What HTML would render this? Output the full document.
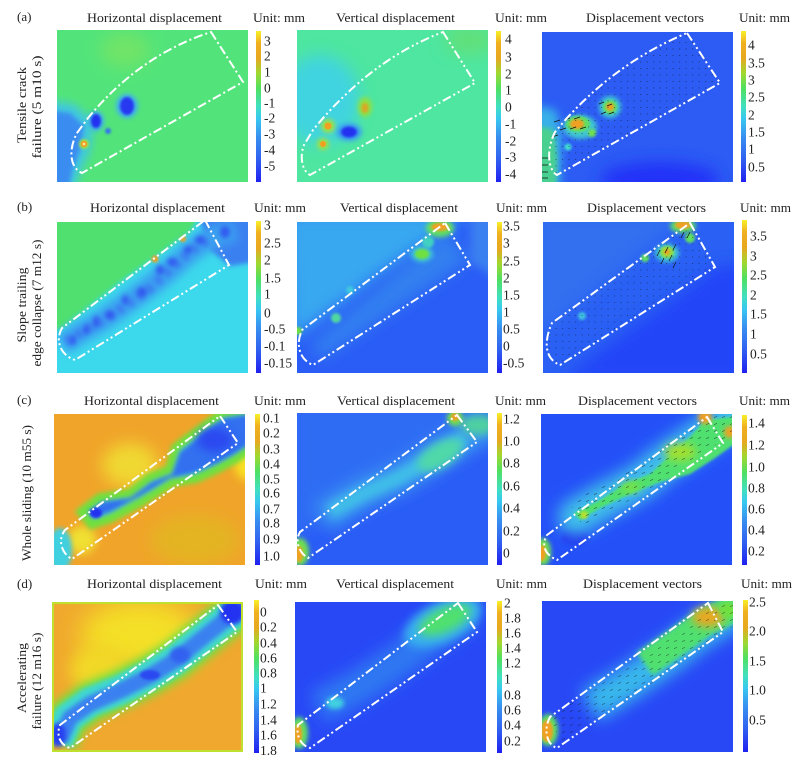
<!DOCTYPE html>
<html><head><meta charset="utf-8"><style>
html,body{margin:0;padding:0;background:#fff;}
svg{display:block;}
text{font-family:"Liberation Serif",serif;fill:#222;}
</style></head><body>
<svg width="801" height="758" viewBox="0 0 801 758" xmlns="http://www.w3.org/2000/svg">
<defs>
<filter id="f1" x="-50%" y="-50%" width="200%" height="200%"><feGaussianBlur stdDeviation="1.2"/></filter>
<filter id="f2" x="-50%" y="-50%" width="200%" height="200%"><feGaussianBlur stdDeviation="2.5"/></filter>
<filter id="f3" x="-50%" y="-50%" width="200%" height="200%"><feGaussianBlur stdDeviation="4.5"/></filter>
<filter id="f4" x="-50%" y="-50%" width="200%" height="200%"><feGaussianBlur stdDeviation="8"/></filter>
<filter id="f5" x="-50%" y="-50%" width="200%" height="200%"><feGaussianBlur stdDeviation="13"/></filter>
<linearGradient id="cb" x1="0" y1="0" x2="0" y2="1">
<stop offset="0" stop-color="#f8f028"/><stop offset="0.08" stop-color="#f0b020"/><stop offset="0.18" stop-color="#e8a820"/>
<stop offset="0.28" stop-color="#a0d830"/><stop offset="0.38" stop-color="#50e060"/><stop offset="0.5" stop-color="#40e0c0"/>
<stop offset="0.58" stop-color="#38c8f0"/><stop offset="0.7" stop-color="#3890f0"/><stop offset="0.85" stop-color="#3060f0"/>
<stop offset="1" stop-color="#2020f0"/></linearGradient>
<pattern id="pd" width="6.5" height="6.5" patternUnits="userSpaceOnUse"><rect x="3" y="3" width="1.2" height="0.9" fill="#111"/></pattern>
<pattern id="pa" width="8" height="7" patternUnits="userSpaceOnUse"><path d="M2,4.8 L5,3.2" stroke="#111" stroke-width="0.6"/></pattern>
<clipPath id="ca1"><rect x="57" y="30" width="191" height="152"/></clipPath>
<clipPath id="ca2"><rect x="297" y="30" width="191" height="152"/></clipPath>
<clipPath id="ca3"><rect x="542" y="32" width="191" height="150"/></clipPath>
<clipPath id="cb1"><rect x="57" y="222" width="191" height="151"/></clipPath>
<clipPath id="cb2"><rect x="297" y="222" width="191" height="151"/></clipPath>
<clipPath id="cb3"><rect x="543" y="222" width="191" height="151"/></clipPath>
<clipPath id="cc1"><rect x="54" y="414" width="191" height="151"/></clipPath>
<clipPath id="cc2"><rect x="297" y="413" width="191" height="152"/></clipPath>
<clipPath id="cc3"><rect x="541" y="414" width="191" height="151"/></clipPath>
<clipPath id="cd1"><rect x="52" y="602" width="191" height="150"/></clipPath>
<clipPath id="cd2"><rect x="295" y="602" width="191" height="150"/></clipPath>
<clipPath id="cd3"><rect x="542" y="601" width="191" height="151"/></clipPath>
</defs>

<!-- ===== Row a ===== -->
<g clip-path="url(#ca1)">
<rect x="57" y="30" width="191" height="152" fill="#52e47a"/>
<ellipse cx="125" cy="50" rx="25" ry="18" fill="#70e468" filter="url(#f4)"/>
<path d="M45,100 L74,104 L94,122 L90,152 L80,172 L74,192 L45,192 Z" fill="#40c8e0" filter="url(#f3)"/>
<path d="M45,110 L70,113 L84,126 L80,150 L72,172 L68,192 L45,192 Z" fill="#3a8cf0" filter="url(#f2)"/>
<ellipse cx="96" cy="121" rx="8" ry="10" fill="#40b0f0" filter="url(#f2)"/>
<ellipse cx="96" cy="121" rx="5" ry="7" fill="#2230f0" filter="url(#f1)"/>
<ellipse cx="127" cy="106" rx="11" ry="12" fill="#40b0f0" filter="url(#f2)"/>
<ellipse cx="127" cy="106" rx="7" ry="9" fill="#2838f0" filter="url(#f1)"/>
<circle cx="108" cy="131" r="3" fill="#3070f0" filter="url(#f1)"/>
<circle cx="84" cy="144" r="5" fill="#a0e040" filter="url(#f1)"/>
<circle cx="84" cy="144" r="3.2" fill="#f0a020"/>
<circle cx="84" cy="144" r="1.3" fill="#f8f0a0"/>
<path d="M211,32 L243,82 L82,173 C70,168 68,150 77,133 L88,118 Q140,55 211,32 Z" fill="none" stroke="#fff" stroke-width="2" stroke-dasharray="9 3 2 3"/>
</g>

<g clip-path="url(#ca2)">
<rect x="297" y="30" width="191" height="152" fill="#4ee6a0"/>
<ellipse cx="320" cy="100" rx="40" ry="45" fill="#40d4e0" filter="url(#f4)"/>
<ellipse cx="470" cy="40" rx="25" ry="15" fill="#60e07a" filter="url(#f4)"/>
<ellipse cx="349" cy="132" rx="13" ry="9" fill="#3aa0f0" filter="url(#f2)"/>
<ellipse cx="349" cy="132" rx="8" ry="5.5" fill="#2030f0" filter="url(#f1)"/>
<circle cx="328" cy="126" r="7" fill="#a0e040" filter="url(#f2)"/>
<circle cx="328" cy="126" r="3.5" fill="#f0a020"/>
<circle cx="323" cy="144" r="6" fill="#a0e040" filter="url(#f2)"/>
<circle cx="323" cy="144" r="3" fill="#f0a020"/>
<ellipse cx="365" cy="107" rx="7" ry="10" fill="#90e040" filter="url(#f2)"/>
<ellipse cx="365" cy="108" rx="3.5" ry="5" fill="#d8a828" filter="url(#f1)"/>
<path d="M443,32 L475,83 L310,175 C301,170 300,155 304,145 L313,130 Q370,60 443,32 Z" fill="none" stroke="#fff" stroke-width="2" stroke-dasharray="9 3 2 3 2 3"/>
</g>

<g clip-path="url(#ca3)">
<rect x="542" y="32" width="191" height="150" fill="#2c5cf4"/>
<ellipse cx="660" cy="180" rx="60" ry="18" fill="#2030f8" filter="url(#f4)"/>
<path d="M535,105 L556,110 L562,135 L560,190 L535,190 Z" fill="#38b0e8" filter="url(#f3)"/>
<path d="M535,125 L554,130 L557,160 L556,190 L535,190 Z" fill="#48d090" filter="url(#f2)"/>
<ellipse cx="580" cy="127" rx="17" ry="12" fill="#40c8d0" filter="url(#f2)"/>
<ellipse cx="578" cy="124" rx="12" ry="8" fill="#60e060" filter="url(#f1)"/>
<ellipse cx="577" cy="124" rx="7" ry="5" fill="#f0a020" filter="url(#f1)"/>
<circle cx="592" cy="133" r="4" fill="#70e050" filter="url(#f1)"/>
<circle cx="610" cy="107" r="11" fill="#40c8d0" filter="url(#f2)"/>
<circle cx="610" cy="107" r="7" fill="#60e060" filter="url(#f1)"/>
<circle cx="610" cy="107" r="4" fill="#f0a020" filter="url(#f1)"/>
<circle cx="568" cy="147" r="3.5" fill="#40e0d0" filter="url(#f1)"/>
<path d="M687,33 L720,83 L557,175 C548,170 546,150 555,132 Q610,65 687,33 Z" fill="url(#pd)" opacity="0.5"/>
<g stroke="#111" stroke-width="0.7">
<path d="M560,120 l-6,2 M570,118 l-6,2 M580,117 l-6,2 M566,128 l-6,2 M576,127 l-6,2 M586,127 l-6,2 M558,135 l-6,2 M604,102 l-5,2 M612,104 l-5,2 M606,112 l-5,2 M614,112 l-5,2 M548,158 l-6,0 M548,165 l-6,0 M548,172 l-6,0 M548,178 l-6,0"/>
</g>
<path d="M687,33 L720,83 L557,175 C548,170 546,150 555,132 Q610,65 687,33 Z" fill="none" stroke="#fff" stroke-width="2" stroke-dasharray="9 3 2 3 2 3"/>
</g>

<!-- ===== Row b ===== -->
<g clip-path="url(#cb1)">
<rect x="57" y="222" width="191" height="151" fill="#3cd8ec"/>
<path d="M45,215 L200,215 L190,232 L120,282 L62,328 L45,335 Z" fill="#50e070" filter="url(#f2)"/>
<ellipse cx="245" cy="225" rx="6" ry="6" fill="#60e060" filter="url(#f1)"/>
<path d="M198,215 L255,215 L255,262 L230,266 L210,250 Z" fill="#3a80f0" filter="url(#f2)"/>
<polyline points="62,345 80,333 100,322 120,308 145,290 170,270 190,252 210,238 235,230" fill="none" stroke="#3aa0f0" stroke-width="22" filter="url(#f3)"/>
<polyline points="66,342 82,332 100,322 122,308 148,290 172,268 192,250 212,238" fill="none" stroke="#3a80f0" stroke-width="9" stroke-dasharray="7 5" filter="url(#f2)"/>
<g fill="#3058f0" filter="url(#f2)">
<ellipse cx="73" cy="340" rx="3" ry="5"/><ellipse cx="86" cy="330" rx="3" ry="5"/><ellipse cx="96" cy="322" rx="3" ry="6"/>
<ellipse cx="110" cy="315" rx="5" ry="4"/><ellipse cx="125" cy="300" rx="3" ry="5"/><ellipse cx="142" cy="292" rx="5" ry="5"/>
<ellipse cx="160" cy="270" rx="4" ry="5"/><ellipse cx="172" cy="262" rx="5" ry="4"/><ellipse cx="188" cy="250" rx="4" ry="4"/>
<ellipse cx="200" cy="240" rx="5" ry="4"/><ellipse cx="225" cy="232" rx="5" ry="6"/>
</g>
<circle cx="155" cy="259" r="3.5" fill="#f0a020" filter="url(#f1)"/>
<circle cx="183" cy="239" r="3" fill="#f0a020" filter="url(#f1)"/>
<path d="M205,220 L229,265 L75,360 C60,355 55,340 62,328 L205,220 Z" fill="none" stroke="#fff" stroke-width="2" stroke-dasharray="9 3 2 3 2 3"/>
</g>

<g clip-path="url(#cb2)">
<rect x="297" y="222" width="191" height="151" fill="#2a5cf6"/>
<path d="M285,212 L470,212 L440,235 L380,275 L320,320 L290,340 Z" fill="#38a8f0" filter="url(#f4)"/>
<path d="M310,345 L445,230 L470,260 L320,360 Z" fill="#3080f0" filter="url(#f4)"/>
<path d="M470,215 L500,215 L500,280 L470,262 Z" fill="#3a80f0" filter="url(#f3)"/>
<ellipse cx="440" cy="228" rx="14" ry="9" fill="#60e060" filter="url(#f2)"/>
<ellipse cx="440" cy="227" rx="9" ry="4" fill="#f0a020" filter="url(#f1)"/>
<ellipse cx="428" cy="242" rx="6" ry="6" fill="#40d0c0" filter="url(#f1)"/>
<ellipse cx="422" cy="254" rx="11" ry="8" fill="#40c8d0" filter="url(#f2)"/>
<ellipse cx="422" cy="254" rx="7" ry="5" fill="#70e040" filter="url(#f1)"/>
<circle cx="350" cy="290" r="4" fill="#40c8e0" filter="url(#f1)"/>
<circle cx="336" cy="318" r="5" fill="#50d8a0" filter="url(#f1)"/>
<circle cx="298" cy="331" r="4" fill="#70e040" filter="url(#f1)"/>
<path d="M445,223 L470,265 L313,365 C300,360 295,345 302,330 L445,223 Z" fill="none" stroke="#fff" stroke-width="2" stroke-dasharray="9 3 2 3 2 3"/>
</g>

<g clip-path="url(#cb3)">
<rect x="543" y="222" width="191" height="151" fill="#2a60f4"/>
<path d="M560,380 L720,265 L745,265 L745,380 Z" fill="#2044f8" filter="url(#f4)"/>
<path d="M535,212 L690,212 L620,270 L545,330 L535,330 Z" fill="#3070f0" filter="url(#f4)"/>
<ellipse cx="683" cy="226" rx="13" ry="7" fill="#60e060" filter="url(#f2)"/>
<ellipse cx="683" cy="225" rx="8" ry="4" fill="#f0a020" filter="url(#f1)"/>
<circle cx="690" cy="238" r="5" fill="#60e060" filter="url(#f1)"/>
<ellipse cx="667" cy="253" rx="12" ry="9" fill="#40c8d0" filter="url(#f2)"/>
<ellipse cx="667" cy="252" rx="7" ry="6" fill="#90e040" filter="url(#f1)"/>
<circle cx="667" cy="252" r="3" fill="#f0a020" filter="url(#f1)"/>
<circle cx="645" cy="258" r="4" fill="#60e060" filter="url(#f1)"/>
<circle cx="582" cy="316" r="4" fill="#40c0e0" filter="url(#f1)"/>
<path d="M690,223 L715,267 L560,365 C547,360 542,345 552,323 L690,223 Z" fill="url(#pd)" opacity="0.45"/>
<g stroke="#111" stroke-width="0.7"><path d="M660,250 l-3,6 M668,247 l-3,6 M676,244 l-3,6 M664,258 l-3,6 M672,255 l-3,6 M684,232 l-3,6 M690,232 l-3,6 M676,262 l-3,6"/></g>
<path d="M690,223 L715,267 L560,365 C547,360 542,345 552,323 L690,223 Z" fill="none" stroke="#fff" stroke-width="2" stroke-dasharray="9 3 2 3 2 3"/>
</g>

<!-- ===== Row c ===== -->
<g clip-path="url(#cc1)">
<rect x="54" y="414" width="191" height="151" fill="#f0a42a"/>
<ellipse cx="130" cy="465" rx="28" ry="22" fill="#f0d830" filter="url(#f4)"/>
<ellipse cx="246" cy="462" rx="12" ry="18" fill="#f8e020" filter="url(#f3)"/>
<ellipse cx="82" cy="540" rx="14" ry="14" fill="#f0e030" filter="url(#f3)"/>
<ellipse cx="195" cy="540" rx="45" ry="25" fill="#e4b422" filter="url(#f4)"/>
<ellipse cx="60" cy="550" rx="12" ry="22" fill="#40d0e0" filter="url(#f2)"/>
<path d="M82,512 L100,498 L130,494 L150,478 L170,470 L176,448 L208,424 L222,414 L250,410 L250,448 L236,458 L218,468 L196,478 L172,482 L140,502 L110,518 L92,524 Z" fill="#40d8c0" stroke="#70e040" stroke-width="10" filter="url(#f2)"/>
<path d="M88,512 L102,502 L130,498 L152,482 L172,474 L180,452 L210,428 L224,418 L250,414 L250,444 L234,454 L216,464 L194,473 L170,478 L140,496 L110,512 L94,518 Z" fill="#3070f0" filter="url(#f2)"/>
<ellipse cx="96" cy="513" rx="6" ry="5" fill="#2030f0" filter="url(#f1)"/>
<ellipse cx="215" cy="440" rx="18" ry="12" fill="#2a48f0" filter="url(#f3)"/>
<path d="M220,416 L238,443 L72,559 C62,554 57,540 65,530 L220,416 Z" fill="none" stroke="#fff" stroke-width="2" stroke-dasharray="9 3 2 3 2 3"/>
</g>

<g clip-path="url(#cc2)">
<rect x="297" y="413" width="191" height="152" fill="#2a5cf6"/>
<path d="M290,400 L490,400 L490,420 L460,428 L300,535 L290,540 Z" fill="#2e6cf4" filter="url(#f4)"/>
<polyline points="322,518 360,495 400,478 430,460 470,435 495,422" fill="none" stroke="#3a98f0" stroke-width="30" filter="url(#f4)"/>
<polyline points="330,512 362,494 398,478 430,460 465,438" fill="none" stroke="#40c0e8" stroke-width="14" filter="url(#f3)"/>
<ellipse cx="440" cy="455" rx="25" ry="12" fill="#50d8a8" filter="url(#f3)" transform="rotate(-30 440 455)"/>
<ellipse cx="478" cy="425" rx="18" ry="10" fill="#50d0a0" filter="url(#f3)"/>
<circle cx="455" cy="418" r="8" fill="#70e050" filter="url(#f2)"/>
<circle cx="455" cy="417" r="4" fill="#f0a020" filter="url(#f1)"/>
<ellipse cx="300" cy="552" rx="9" ry="14" fill="#70e050" filter="url(#f2)"/>
<ellipse cx="299" cy="554" rx="4" ry="8" fill="#f0a020" filter="url(#f1)"/>
<path d="M457,415 L477,442 L308,558 C298,552 295,540 300,532 L457,415 Z" fill="none" stroke="#fff" stroke-width="2" stroke-dasharray="9 3 2 3 2 3"/>
</g>

<g clip-path="url(#cc3)">
<rect x="541" y="414" width="191" height="151" fill="#2450f8"/>
<ellipse cx="575" cy="537" rx="14" ry="8" fill="#2030f0" filter="url(#f2)"/>
<polyline points="576,517 600,503 640,482 665,462 690,445 715,428 740,415" fill="none" stroke="#40c0e8" stroke-width="36" stroke-linecap="round" filter="url(#f4)"/>
<path d="M574,513 L600,500 L625,484 L650,474 L665,460 L690,437 L705,420 L740,416 L740,440 L715,458 L690,474 L660,482 L630,494 L600,508 L580,520 Z" fill="#50e070" filter="url(#f1)"/>
<ellipse cx="680" cy="452" rx="16" ry="9" fill="#a0e030" filter="url(#f3)"/>
<ellipse cx="630" cy="487" rx="10" ry="5" fill="#80e040" filter="url(#f3)"/>
<circle cx="584" cy="515" r="4" fill="#b0e030" filter="url(#f1)"/>
<circle cx="705" cy="417" r="7" fill="#f0a020" filter="url(#f2)"/>
<circle cx="730" cy="432" r="6" fill="#f0a020" filter="url(#f2)"/>
<ellipse cx="543" cy="552" rx="8" ry="14" fill="#70e050" filter="url(#f2)"/>
<ellipse cx="542" cy="553" rx="4" ry="8" fill="#f0a020" filter="url(#f1)"/>
<polyline points="576,514 600,501 640,480 665,462 690,445 715,430 740,418" fill="none" stroke="url(#pa)" stroke-width="26" opacity="0.55"/>
<path d="M707,417 L723,443 L557,560 C545,555 541,545 547,535 L707,417 Z" fill="none" stroke="#fff" stroke-width="2" stroke-dasharray="9 3 2 3 2 3"/>
</g>

<!-- ===== Row d ===== -->
<g clip-path="url(#cd1)">
<rect x="52" y="602" width="191" height="150" fill="#f0a82e"/>
<ellipse cx="140" cy="635" rx="60" ry="35" fill="#f4e028" filter="url(#f5)"/>
<ellipse cx="100" cy="670" rx="30" ry="25" fill="#f2d828" filter="url(#f4)"/>
<polyline points="58,742 68,718 90,702 120,690 150,675 175,660 200,640 225,620 250,605" fill="none" stroke="#70e040" stroke-width="40" filter="url(#f3)"/>
<polyline points="58,742 68,718 90,702 120,690 150,675 175,660 200,640 225,620 250,605" fill="none" stroke="#40d8d0" stroke-width="30" filter="url(#f2)"/>
<polyline points="60,740 70,718 90,704 122,690 150,676 176,660 200,640 225,620 250,606" fill="none" stroke="#3a80f0" stroke-width="16" filter="url(#f2)"/>
<ellipse cx="150" cy="675" rx="10" ry="5" fill="#2a48f0" filter="url(#f1)"/>
<ellipse cx="180" cy="655" rx="10" ry="8" fill="#3060f0" filter="url(#f2)"/>
<circle cx="232" cy="612" r="12" fill="#2030f0" filter="url(#f2)"/>
<ellipse cx="58" cy="735" rx="8" ry="12" fill="#2840f0" filter="url(#f2)"/>
<path d="M218,605 L237,632 L70,748 C60,745 56,735 60,725 L218,605 Z" fill="none" stroke="#fff" stroke-width="2" stroke-dasharray="9 3 2 3 2 3"/>
<rect x="53" y="603" width="189" height="148" fill="none" stroke="#c0e030" stroke-width="2"/>
</g>

<g clip-path="url(#cd2)">
<rect x="295" y="602" width="191" height="150" fill="#2848f6"/>
<polyline points="318,708 360,686 400,660 440,630 470,612" fill="none" stroke="#2e78f2" stroke-width="34" filter="url(#f4)"/>
<ellipse cx="443" cy="622" rx="42" ry="20" fill="#38b0ee" filter="url(#f3)" transform="rotate(-25 443 622)"/>
<ellipse cx="445" cy="620" rx="28" ry="12" fill="#50e070" filter="url(#f3)" transform="rotate(-25 445 620)"/>
<ellipse cx="335" cy="703" rx="9" ry="6" fill="#40d0e0" filter="url(#f2)"/>
<ellipse cx="299" cy="733" rx="9" ry="16" fill="#60e060" filter="url(#f2)"/>
<ellipse cx="298" cy="734" rx="4" ry="10" fill="#f0a020" filter="url(#f1)"/>
<path d="M458,603 L477,632 L310,748 C300,745 296,735 298,725 L458,603 Z" fill="none" stroke="#fff" stroke-width="2" stroke-dasharray="9 3 2 3 2 3"/>
</g>

<g clip-path="url(#cd3)">
<rect x="542" y="601" width="191" height="151" fill="#2848f6"/>
<polyline points="590,706 630,682 670,655 700,632 740,608" fill="none" stroke="#38b8ec" stroke-width="34" filter="url(#f4)"/>
<polyline points="645,664 680,640 705,622 740,605" fill="none" stroke="#50e070" stroke-width="28" filter="url(#f2)"/>
<ellipse cx="708" cy="617" rx="16" ry="10" fill="#e8a820" filter="url(#f3)"/>
<ellipse cx="728" cy="610" rx="8" ry="8" fill="#70e040" filter="url(#f2)"/>
<ellipse cx="548" cy="730" rx="10" ry="16" fill="#60e060" filter="url(#f2)"/>
<ellipse cx="547" cy="731" rx="6" ry="11" fill="#f0a020" filter="url(#f1)"/>
<polyline points="555,730 590,706 630,682 670,655 700,632 740,606" fill="none" stroke="url(#pa)" stroke-width="26" opacity="0.5"/>
<path d="M708,603 L723,632 L557,748 C547,745 543,730 550,717 L708,603 Z" fill="none" stroke="#fff" stroke-width="2" stroke-dasharray="9 3 2 3 2 3"/>
</g>

<!-- ===== Colorbars ===== -->
<rect x="256" y="31" width="5" height="151" fill="url(#cb)"/>
<rect x="496" y="31" width="5" height="151" fill="url(#cb)"/>
<rect x="741" y="31" width="5" height="151" fill="url(#cb)"/>
<rect x="256" y="221" width="5" height="152" fill="url(#cb)"/>
<rect x="497" y="222" width="5" height="151" fill="url(#cb)"/>
<rect x="742" y="220" width="5" height="153" fill="url(#cb)"/>
<rect x="255" y="414" width="5" height="151" fill="url(#cb)"/>
<rect x="497" y="413" width="5" height="152" fill="url(#cb)"/>
<rect x="742" y="415" width="5" height="150" fill="url(#cb)"/>
<rect x="254" y="600" width="5" height="153" fill="url(#cb)"/>
<rect x="497" y="601" width="5" height="152" fill="url(#cb)"/>
<rect x="743" y="600" width="5" height="152" fill="url(#cb)"/>

<!-- ===== Tick labels ===== -->
<g font-size="13.5">
<text x="264" y="45.5">3</text><text x="264" y="60.5">2</text><text x="264" y="76.5">1</text><text x="264" y="92.5">0</text><text x="264" y="107.5">-1</text><text x="264" y="122.5">-2</text><text x="264" y="138.5">-3</text><text x="264" y="154.5">-4</text><text x="264" y="170.5">-5</text>
<text x="505" y="43.5">4</text><text x="505" y="61.5">3</text><text x="505" y="78.5">2</text><text x="505" y="94.5">1</text><text x="505" y="111.5">0</text><text x="505" y="128.5">-1</text><text x="505" y="145.5">-2</text><text x="505" y="161.5">-3</text><text x="505" y="178.5">-4</text>
<text x="748" y="49.5">4</text><text x="748" y="67.5">3.5</text><text x="748" y="84.5">3</text><text x="748" y="101.5">2.5</text><text x="748" y="119.5">2</text><text x="748" y="136.5">1.5</text><text x="748" y="153.5">1</text><text x="748" y="171.5">0.5</text>

<text x="264" y="229.5">3</text><text x="264" y="247.5">2.5</text><text x="264" y="264.5">2</text><text x="264" y="282.5">1.5</text><text x="264" y="298.5">1</text><text x="264" y="317.5">0</text><text x="264" y="333.5">-0.5</text><text x="264" y="350.5">-0.1</text><text x="264" y="367.5">-0.15</text>
<text x="503" y="230.5">3.5</text><text x="503" y="247.5">3</text><text x="503" y="265.5">2.5</text><text x="503" y="282.5">2</text><text x="503" y="299.5">1.5</text><text x="503" y="316.5">1</text><text x="503" y="333.5">0.5</text><text x="503" y="350.5">0</text><text x="503" y="367.5">-0.5</text>
<text x="750" y="240.5">3.5</text><text x="750" y="260.5">3</text><text x="750" y="279.5">2.5</text><text x="750" y="299.5">2</text><text x="750" y="318.5">1.5</text><text x="750" y="338.5">1</text><text x="750" y="358.5">0.5</text>

<text x="263" y="422.5">0.1</text><text x="263" y="437.5">0.2</text><text x="263" y="453.5">0.3</text><text x="263" y="468.5">0.4</text><text x="263" y="483.5">0.5</text><text x="263" y="497.5">0.6</text><text x="263" y="513.5">0.7</text><text x="263" y="527.5">0.8</text><text x="263" y="543.5">0.9</text><text x="263" y="560.5">1.0</text>
<text x="503" y="423.5">1.2</text><text x="503" y="445.5">1.0</text><text x="503" y="467.5">0.8</text><text x="503" y="490.5">0.6</text><text x="503" y="512.5">0.4</text><text x="503" y="535.5">0.2</text><text x="503" y="557.5">0</text>
<text x="748" y="427.5">1.4</text><text x="748" y="449.5">1.2</text><text x="748" y="471.5">1.0</text><text x="748" y="492.5">0.8</text><text x="748" y="513.5">0.6</text><text x="748" y="534.5">0.4</text><text x="748" y="555.5">0.2</text>

<text x="260" y="616.5">0</text><text x="260" y="631.5">0.2</text><text x="260" y="647.5">0.4</text><text x="260" y="662.5">0.6</text><text x="260" y="677.5">0.8</text><text x="260" y="692.5">1</text><text x="260" y="708.5">1.2</text><text x="260" y="724.5">1.4</text><text x="260" y="739.5">1.6</text><text x="260" y="755">1.8</text>
<text x="504" y="607.5">2</text><text x="504" y="622.5">1.8</text><text x="504" y="637.5">1.6</text><text x="504" y="652.5">1.4</text><text x="504" y="667.5">1.2</text><text x="504" y="683.5">1</text><text x="504" y="699.5">0.8</text><text x="504" y="714.5">0.6</text><text x="504" y="729.5">0.4</text><text x="504" y="745.5">0.2</text>
<text x="749" y="606.5">2.5</text><text x="749" y="635.5">2.0</text><text x="749" y="665.5">1.5</text><text x="749" y="694.5">1.0</text><text x="749" y="724.5">0.5</text>
</g>

<!-- ===== Titles ===== -->
<g font-size="13" text-anchor="start">
<text x="17" y="21">(a)</text><text x="17" y="211">(b)</text><text x="17" y="404">(c)</text><text x="17" y="588">(d)</text>

<text x="87" y="22" textLength="135" lengthAdjust="spacingAndGlyphs">Horizontal displacement</text>
<text x="336" y="22" textLength="119" lengthAdjust="spacingAndGlyphs">Vertical displacement</text>
<text x="586" y="22" textLength="118" lengthAdjust="spacingAndGlyphs">Displacement vectors</text>
<text x="253" y="22" textLength="52" lengthAdjust="spacingAndGlyphs">Unit: mm</text>
<text x="495" y="22" textLength="52" lengthAdjust="spacingAndGlyphs">Unit: mm</text>
<text x="739" y="22" textLength="51" lengthAdjust="spacingAndGlyphs">Unit: mm</text>

<text x="90" y="212" textLength="135" lengthAdjust="spacingAndGlyphs">Horizontal displacement</text>
<text x="340" y="212" textLength="118" lengthAdjust="spacingAndGlyphs">Vertical displacement</text>
<text x="587" y="212" textLength="119" lengthAdjust="spacingAndGlyphs">Displacement vectors</text>
<text x="254" y="212" textLength="52" lengthAdjust="spacingAndGlyphs">Unit: mm</text>
<text x="496" y="212" textLength="51" lengthAdjust="spacingAndGlyphs">Unit: mm</text>
<text x="740" y="212" textLength="51" lengthAdjust="spacingAndGlyphs">Unit: mm</text>

<text x="84" y="405" textLength="135" lengthAdjust="spacingAndGlyphs">Horizontal displacement</text>
<text x="337" y="405" textLength="118" lengthAdjust="spacingAndGlyphs">Vertical displacement</text>
<text x="578" y="405" textLength="119" lengthAdjust="spacingAndGlyphs">Displacement vectors</text>
<text x="254" y="405" textLength="52" lengthAdjust="spacingAndGlyphs">Unit: mm</text>
<text x="495" y="405" textLength="51" lengthAdjust="spacingAndGlyphs">Unit: mm</text>
<text x="739" y="405" textLength="51" lengthAdjust="spacingAndGlyphs">Unit: mm</text>

<text x="87" y="588" textLength="135" lengthAdjust="spacingAndGlyphs">Horizontal displacement</text>
<text x="336" y="588" textLength="118" lengthAdjust="spacingAndGlyphs">Vertical displacement</text>
<text x="583" y="588" textLength="119" lengthAdjust="spacingAndGlyphs">Displacement vectors</text>
<text x="255" y="588" textLength="52" lengthAdjust="spacingAndGlyphs">Unit: mm</text>
<text x="496" y="588" textLength="51" lengthAdjust="spacingAndGlyphs">Unit: mm</text>
<text x="741" y="588" textLength="51" lengthAdjust="spacingAndGlyphs">Unit: mm</text>
</g>

<!-- ===== Row labels (vertical) ===== -->
<g font-size="13" text-anchor="middle">
<text transform="translate(26,105) rotate(-90)" textLength="76" lengthAdjust="spacingAndGlyphs">Tensile crack</text>
<text transform="translate(41,107) rotate(-90)" textLength="103" lengthAdjust="spacingAndGlyphs">failure (5 m10 s)</text>
<text transform="translate(26,305) rotate(-90)" textLength="75" lengthAdjust="spacingAndGlyphs">Slope trailing</text>
<text transform="translate(41,303) rotate(-90)" textLength="127" lengthAdjust="spacingAndGlyphs">edge collapse (7 m12 s)</text>
<text transform="translate(31,493) rotate(-90)" textLength="136" lengthAdjust="spacingAndGlyphs">Whole sliding (10 m55 s)</text>
<text transform="translate(26,678) rotate(-90)" textLength="70" lengthAdjust="spacingAndGlyphs">Accelerating</text>
<text transform="translate(41,681) rotate(-90)" textLength="97" lengthAdjust="spacingAndGlyphs">failure (12 m16 s)</text>
</g>
</svg>
</body></html>
